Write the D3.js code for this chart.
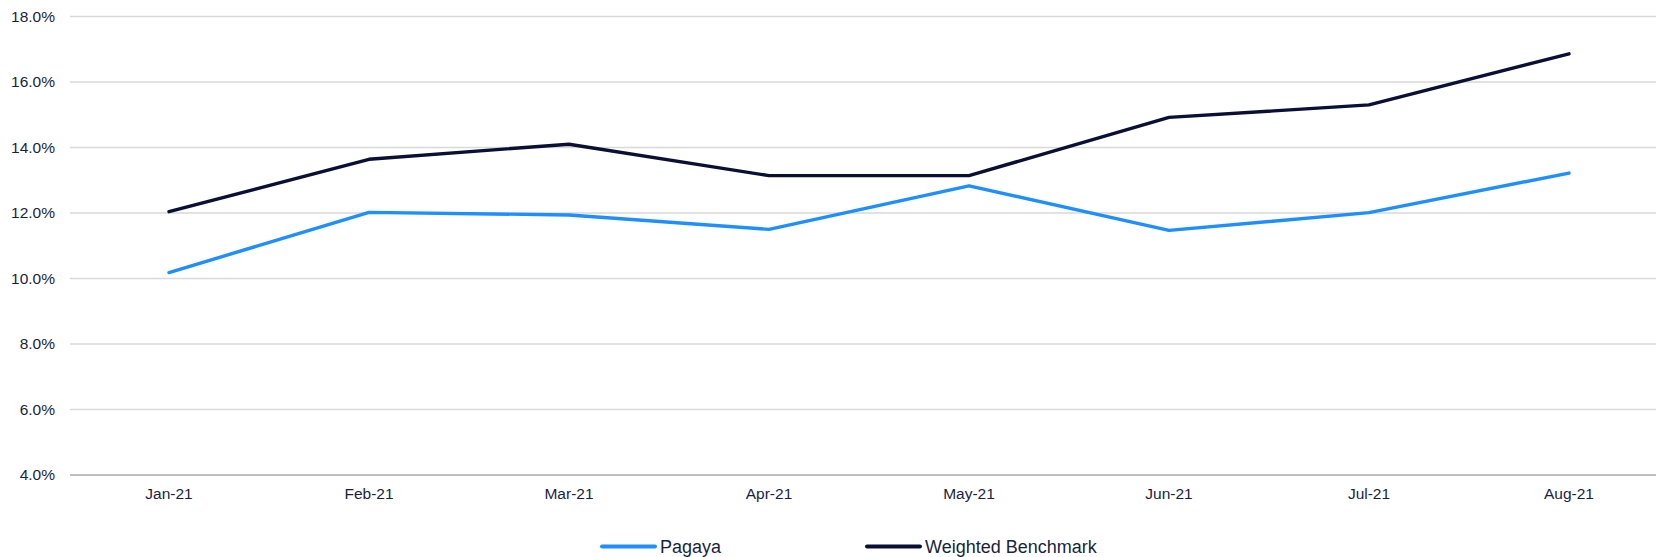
<!DOCTYPE html>
<html>
<head>
<meta charset="utf-8">
<script src="https://cdn.jsdelivr.net/npm/d3@7"></script>
<style>
  html, body { margin: 0; padding: 0; background: #fff; }
  svg { display: block; font-family: "Liberation Sans", Arial, sans-serif; }
</style>
</head>
<body>
<svg id="chart" width="1658" height="557"></svg>
<script>
// Monthly categories
const months = ["Jan-21", "Feb-21", "Mar-21", "Apr-21", "May-21", "Jun-21", "Jul-21", "Aug-21"];
// Series values (%)
const pagaya = [10.18, 12.02, 11.94, 11.50, 12.83, 11.47, 12.01, 13.22];
const benchmark = [12.04, 13.64, 14.10, 13.14, 13.14, 14.92, 15.30, 16.86];
// Y-axis ticks (%)
const yTicks = [4, 6, 8, 10, 12, 14, 16, 18];

const seriesNames = ["Pagaya", "Weighted Benchmark"];
const seriesColors = ["#1f8fff", "#0a0f35"];

const svg = d3.select("#chart");
const plotLeft = 70, plotRight = 1656, plotTop = 16.5, plotBottom = 475;

const x = d3.scaleBand().domain(months).range([69, 1669]).padding(0);
const y = d3.scaleLinear().domain([4, 18]).range([plotBottom, plotTop]);

// Horizontal gridlines
svg.append("g")
  .selectAll("line")
  .data(yTicks.filter(t => t !== 4))
  .join("line")
  .attr("x1", plotLeft).attr("x2", plotRight)
  .attr("y1", d => y(d)).attr("y2", d => y(d))
  .attr("stroke", "#d9d9d9").attr("stroke-width", 1.4);

// Category axis baseline
svg.append("line")
  .attr("x1", plotLeft).attr("x2", plotRight)
  .attr("y1", y(4)).attr("y2", y(4))
  .attr("stroke", "#bfbfbf").attr("stroke-width", 1.8);

// Y tick labels
svg.append("g")
  .selectAll("text")
  .data(yTicks)
  .join("text")
  .attr("x", 55)
  .attr("y", d => y(d))
  .attr("dy", "0.35em")
  .attr("text-anchor", "end")
  .attr("font-size", 15.5)
  .attr("fill", "#1a1f3d")
  .text(d => d.toFixed(1) + "%");

// X tick labels
svg.append("g")
  .selectAll("text")
  .data(months)
  .join("text")
  .attr("x", d => x(d) + x.bandwidth() / 2)
  .attr("y", 494)
  .attr("dy", "0.35em")
  .attr("text-anchor", "middle")
  .attr("font-size", 15.5)
  .attr("fill", "#1a1f3d")
  .text(d => d);

// Series lines
const line = d3.line()
  .x((d, i) => x(months[i]) + x.bandwidth() / 2)
  .y(d => y(d));

[pagaya, benchmark].forEach((vals, k) => {
  svg.append("path")
    .datum(vals)
    .attr("d", line)
    .attr("fill", "none")
    .attr("stroke", seriesColors[k])
    .attr("stroke-width", 3.4)
    .attr("stroke-linejoin", "round")
    .attr("stroke-linecap", "round");
});

// Legend
const legendX = [602, 867];
const legend = svg.append("g");
seriesNames.forEach((name, k) => {
  legend.append("line")
    .attr("x1", legendX[k]).attr("x2", legendX[k] + 53)
    .attr("y1", 546.5).attr("y2", 546.5)
    .attr("stroke", seriesColors[k])
    .attr("stroke-width", 4)
    .attr("stroke-linecap", "round");
  legend.append("text")
    .attr("x", legendX[k] + 58)
    .attr("y", 547)
    .attr("dy", "0.35em")
    .attr("font-size", 18)
    .attr("fill", "#1a1f3d")
    .text(name);
});
</script>
</body>
</html>
